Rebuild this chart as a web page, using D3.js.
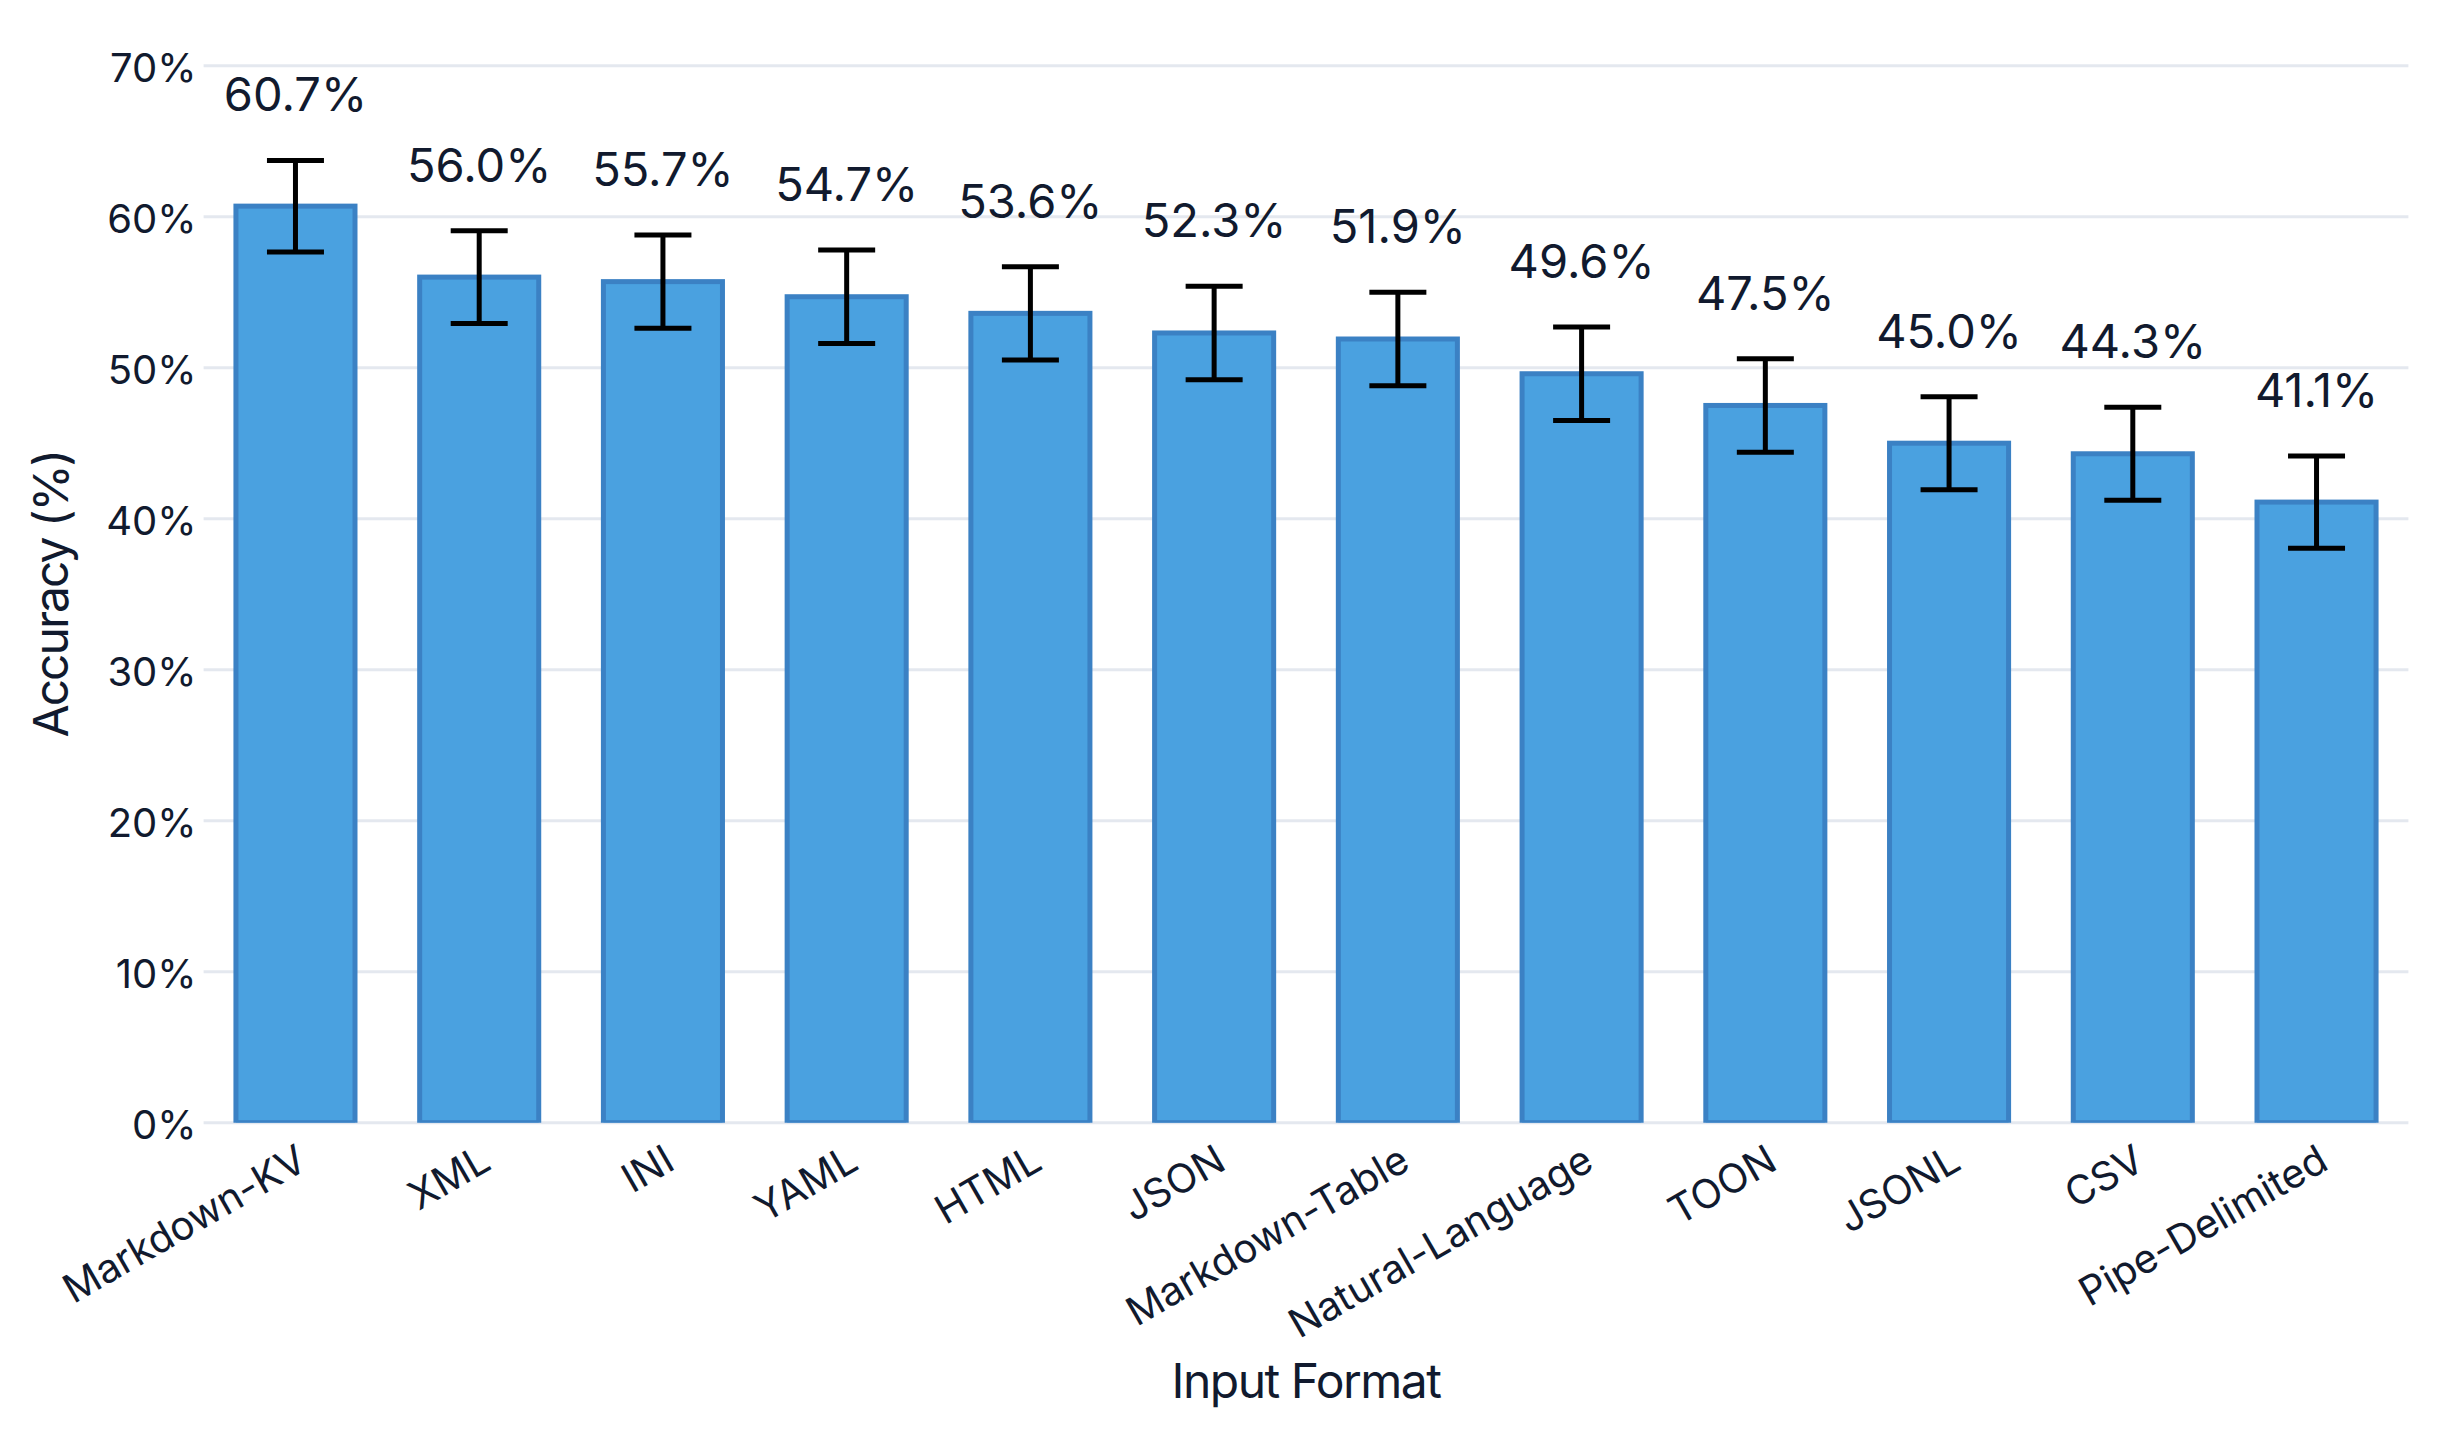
<!DOCTYPE html>
<html>
<head>
<meta charset="utf-8">
<script src="https://cdn.jsdelivr.net/npm/d3@7/dist/d3.min.js"></script>
<style>
  html, body { margin: 0; padding: 0; background: #ffffff; }
  svg { display: block; }
  text { font-family: Inter, "Noto Sans", sans-serif; fill: #111a2e; }
</style>
</head>
<body>
<script>
// ---- data ----
const categories = ["Markdown-KV", "XML", "INI", "YAML", "HTML", "JSON", "Markdown-Table",
  "Natural-Language", "TOON", "JSONL", "CSV", "Pipe-Delimited"];
const accuracy = [60.7, 56.0, 55.7, 54.7, 53.6, 52.3, 51.9, 49.6, 47.5, 45.0, 44.3, 41.1];
const errorHalf = [3.03, 3.07, 3.08, 3.09, 3.09, 3.09, 3.09, 3.10, 3.10, 3.08, 3.08, 3.05];
const yTicks = [0, 10, 20, 30, 40, 50, 60, 70];
const yTitle = "Accuracy (%)";
const xTitle = "Input Format";

// ---- layout ----
const W = 2442, H = 1434;
const plot = { left: 203.6, right: 2408.4, top: 65.7, bottom: 1122.7 };

const svg = d3.select("body").append("svg").attr("width", W).attr("height", H);

const x = d3.scaleBand().domain(categories).range([plot.left, plot.right])
  .paddingInner(0.352).paddingOuter(0.176);
const y = d3.scaleLinear().domain([0, 70]).range([plot.bottom, plot.top]);

// grid
svg.append("g").selectAll("line").data(yTicks).join("line")
  .attr("x1", plot.left).attr("x2", plot.right)
  .attr("y1", d => y(d)).attr("y2", d => y(d))
  .attr("stroke", "#e4e8ef").attr("stroke-width", 3);

// y axis tick labels
const yAxis = d3.axisLeft(y).tickValues(yTicks).tickFormat(d => d + "%").tickSize(0).tickPadding(0);
const gy = svg.append("g").attr("transform", `translate(${plot.left - 7},0)`).call(yAxis);
gy.select(".domain").remove();
gy.selectAll("text").attr("font-size", 40).attr("font-family", "Inter, sans-serif")
  .attr("fill", "#111a2e").attr("dy", "0.4em");

// clip for bars
svg.append("clipPath").attr("id", "plotclip").append("rect")
  .attr("x", 0).attr("y", 0).attr("width", W).attr("height", plot.bottom);

// bars
svg.append("g").attr("clip-path", "url(#plotclip)").selectAll("rect").data(categories).join("rect")
  .attr("x", d => x(d))
  .attr("width", x.bandwidth())
  .attr("y", (d, i) => y(accuracy[i]))
  .attr("height", (d, i) => y(0) - y(accuracy[i]))
  .attr("fill", "#4aa1e0")
  .attr("stroke", "#3b81c4")
  .attr("stroke-width", 5);

// error bars
const capW = 57;
const eg = svg.append("g").attr("stroke", "#000").attr("stroke-width", 5);
categories.forEach((c, i) => {
  const cx = x(c) + x.bandwidth() / 2;
  const yt = y(accuracy[i] + errorHalf[i]);
  const yb = y(accuracy[i] - errorHalf[i]);
  eg.append("line").attr("x1", cx).attr("x2", cx).attr("y1", yt).attr("y2", yb);
  eg.append("line").attr("x1", cx - capW / 2).attr("x2", cx + capW / 2).attr("y1", yt).attr("y2", yt);
  eg.append("line").attr("x1", cx - capW / 2).attr("x2", cx + capW / 2).attr("y1", yb).attr("y2", yb);
});

// value labels
svg.append("g").selectAll("text").data(categories).join("text")
  .attr("x", d => x(d) + x.bandwidth() / 2)
  .attr("y", (d, i) => y(accuracy[i] + errorHalf[i]) - 49)
  .attr("text-anchor", "middle")
  .attr("font-size", 47)
  .text((d, i) => accuracy[i].toFixed(1) + "%");

// x tick labels (rotated)
svg.append("g").selectAll("text").data(categories).join("text")
  .attr("transform", d => `translate(${x(d) + x.bandwidth() / 2 + 14},1168) rotate(-30)`)
  .attr("text-anchor", "end")
  .attr("font-size", 40)
  .text(d => d);

// axis titles
svg.append("text")
  .attr("x", (plot.left + plot.right) / 2).attr("y", 1398)
  .attr("text-anchor", "middle").attr("font-size", 48)
  .attr("letter-spacing", "-1.5px")
  .text(xTitle);

svg.append("text")
  .attr("transform", `translate(68,${(plot.top + plot.bottom) / 2}) rotate(-90)`)
  .attr("text-anchor", "middle").attr("font-size", 48)
  .attr("letter-spacing", "-2px")
  .text(yTitle);
</script>
</body>
</html>
